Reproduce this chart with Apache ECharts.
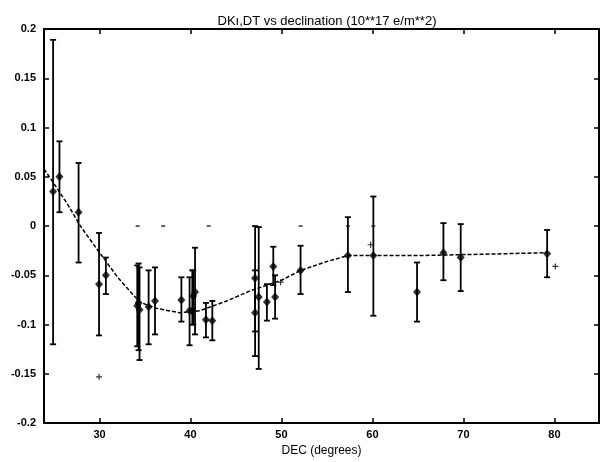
<!DOCTYPE html>
<html>
<head>
<meta charset="utf-8">
<script src="https://cdn.jsdelivr.net/npm/echarts@6/dist/echarts.min.js"></script>
<style>
  html, body { margin: 0; padding: 0; background: #fff; }
  #chart { width: 604px; height: 462px; }
</style>
</head>
<body>
<div id="chart"></div>
<script>
// Measured points (diamonds) with error bars
const decs = [24.9, 25.6, 27.7, 29.95, 30.7, 34.15, 34.3, 34.4, 35.4, 36.1, 39.0, 39.9, 40.2, 40.3, 40.5, 41.7, 42.4, 47.1, 47.1, 47.5, 48.4, 49.1, 49.3, 52.1, 57.3, 60.1, 64.9, 67.8, 69.7, 79.2];
const vals = [0.035, 0.050, 0.014, -0.059, -0.050, -0.081, -0.078, -0.085, -0.082, -0.076, -0.075, -0.086, -0.086, -0.071, -0.067, -0.095, -0.096, -0.053, -0.088, -0.072, -0.077, -0.041, -0.072, -0.045, -0.030, -0.030, -0.067, -0.027, -0.032, -0.028];
const errHi = [0.189, 0.086, 0.064, -0.007, -0.032, -0.040, -0.038, -0.042, -0.045, -0.042, -0.052, -0.052, -0.045, -0.045, -0.022, -0.078, -0.076, -0.045, 0.000, -0.001, -0.059, -0.021, -0.050, -0.020, 0.009, 0.030, -0.037, 0.003, 0.002, -0.004];
const errLo = [-0.120, 0.014, -0.037, -0.111, -0.069, -0.122, -0.126, -0.136, -0.120, -0.110, -0.097, -0.121, -0.100, -0.100, -0.110, -0.113, -0.116, -0.107, -0.132, -0.145, -0.096, -0.060, -0.094, -0.069, -0.067, -0.091, -0.097, -0.055, -0.066, -0.052];

// Dashed fit curve
const fitDec = [23.9, 25, 26.5, 27.9, 30, 32, 34.4, 36, 38.8, 41, 44, 46.5, 50, 52.1, 55, 57.3, 60.1, 65, 70, 75, 79.2];
const fitVal = [0.058, 0.043, 0.022, 0.0, -0.027, -0.052, -0.077, -0.083, -0.088, -0.086, -0.076, -0.066, -0.055, -0.045, -0.036, -0.030, -0.030, -0.030, -0.029, -0.028, -0.027];

// "+" markers
const plusDec = [29.95, 49.9, 59.8, 80.1];
const plusVal = [-0.153, -0.057, -0.019, -0.041];

// small "-" markers on the zero line
const zeroDec = [34.2, 37.0, 42.0, 52.1, 57.3, 60.1];
const zeroVal = [0, 0, 0, 0, 0, 0];

const xTicks = [30, 40, 50, 60, 70, 80];

const FONT = 'Liberation Sans';

const chart = echarts.init(document.getElementById('chart'));

function errorBar(params, api) {
    const top = api.coord([api.value(0), api.value(1)]);
    const bot = api.coord([api.value(0), api.value(2)]);
    const w = 3;
    const st = { stroke: '#000', lineWidth: 1.8 };
    return {
        type: 'group',
        children: [
            { type: 'line', shape: { x1: top[0], y1: top[1], x2: bot[0], y2: bot[1] }, style: st },
            { type: 'line', shape: { x1: top[0] - w, y1: top[1], x2: top[0] + w, y2: top[1] }, style: st },
            { type: 'line', shape: { x1: bot[0] - w, y1: bot[1], x2: bot[0] + w, y2: bot[1] }, style: st }
        ]
    };
}

const frameLine = { show: true, onZero: false, lineStyle: { color: '#000', width: 2 } };
const tickIn = { show: true, inside: true, length: 5, lineStyle: { color: '#000', width: 1.5 } };

chart.setOption({
    animation: false,
    backgroundColor: '#fff',
    title: {
        text: 'DKı,DT vs declination (10**17 e/m**2)',
        left: 322, top: 10, textAlign: 'center',
        textStyle: { fontFamily: FONT, fontSize: 13, fontWeight: 'normal', color: '#000' }
    },
    grid: { left: 44, right: 5, top: 29, bottom: 32 },
    xAxis: [{
        type: 'value', min: 23.9, max: 84.9,
        name: 'DEC (degrees)', nameLocation: 'middle', nameGap: 19,
        nameTextStyle: { fontFamily: FONT, fontSize: 12, color: '#000' },
        axisLine: frameLine,
        axisTick: Object.assign({ customValues: xTicks }, tickIn),
        axisLabel: { customValues: xTicks, margin: 6, fontFamily: FONT, fontSize: 11, fontWeight: 'bold', color: '#000' },
        splitLine: { show: false }
    }, {
        type: 'value', min: 23.9, max: 84.9, position: 'top',
        axisLine: frameLine,
        axisTick: Object.assign({ customValues: xTicks }, tickIn),
        axisLabel: { show: false },
        splitLine: { show: false }
    }],
    yAxis: [{
        type: 'value', min: -0.2, max: 0.2, interval: 0.05,
        axisLine: frameLine,
        axisTick: tickIn,
        axisLabel: {
            margin: 8, fontFamily: FONT, fontSize: 11, fontWeight: 'bold', color: '#000',
            formatter: v => String(Math.round(v * 100) / 100)
        },
        splitLine: { show: false }
    }, {
        type: 'value', min: -0.2, max: 0.2, interval: 0.05, position: 'right',
        axisLine: frameLine,
        axisTick: tickIn,
        axisLabel: { show: false },
        splitLine: { show: false }
    }],
    series: [{
        type: 'line',
        data: fitDec.map((d, i) => [d, fitVal[i]]),
        showSymbol: false,
        lineStyle: { color: '#000', width: 1.5, type: [4, 2] },
        z: 2
    }, {
        type: 'custom',
        renderItem: errorBar,
        data: decs.map((d, i) => [d, errHi[i], errLo[i]]),
        encode: { x: 0, y: [1, 2] },
        z: 3
    }, {
        type: 'scatter',
        data: decs.map((d, i) => [d, vals[i]]),
        symbol: 'diamond', symbolSize: [8, 9],
        itemStyle: { color: '#000' },
        z: 4
    }, {
        type: 'scatter',
        data: plusDec.map((d, i) => [d, plusVal[i]]),
        symbol: 'path://M2,0H3V2H5V3H3V5H2V3H0V2H2Z', symbolSize: 6,
        itemStyle: { color: '#000' },
        z: 4
    }, {
        type: 'scatter',
        data: zeroDec.map((d, i) => [d, zeroVal[i]]),
        symbol: 'rect', symbolSize: [4, 1.5],
        itemStyle: { color: '#000' },
        z: 4
    }]
});
</script>
</body>
</html>
